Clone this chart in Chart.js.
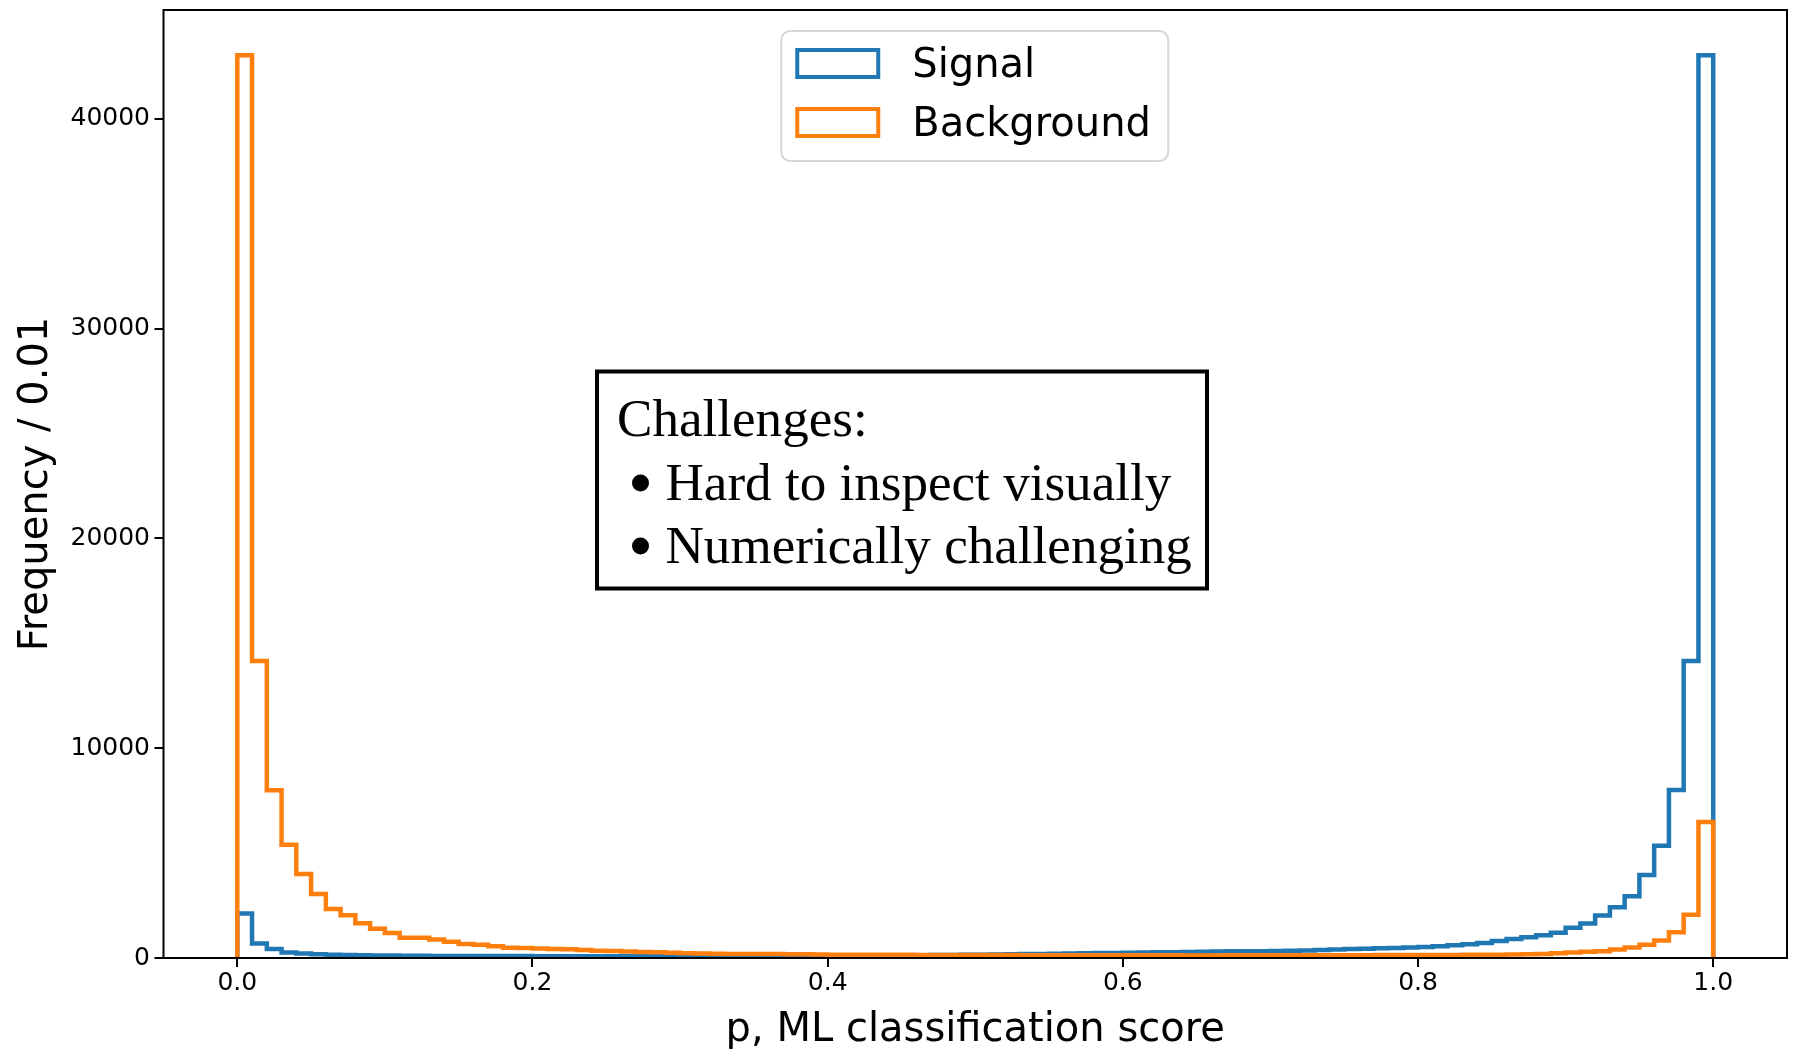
<!DOCTYPE html>
<html>
<head>
<meta charset="utf-8">
<script src="https://cdn.jsdelivr.net/npm/chart.js@4.4.1/dist/chart.umd.min.js"></script>
<style>
  html, body { margin: 0; padding: 0; background: #fff; }
  canvas { display: block; }
</style>
</head>
<body>
<canvas id="hist" width="1793" height="1049"></canvas>
<script>
// histogram: 100 bins of width 0.01 over [0, 1]
const binWidth = 0.01;

const signalCounts = [
  2120, 690, 430, 260, 210, 175, 150, 140, 130, 125,
  120, 110, 105, 100, 100, 95, 95, 90, 90, 90,
  85, 85, 85, 80, 80, 80, 80, 80, 85, 85,
  85, 85, 90, 90, 90, 95, 95, 100, 100, 105,
  105, 110, 115, 120, 125, 130, 135, 140, 145, 150,
  160, 165, 175, 185, 190, 200, 210, 225, 235, 240,
  250, 262, 270, 275, 285, 295, 310, 318, 320, 325,
  330, 340, 360, 381, 400, 429, 440, 470, 480, 500,
  530, 560, 610, 660, 720, 810, 900, 990, 1090, 1200,
  1440, 1650, 2030, 2420, 2940, 3950, 5350, 8010, 14150, 43030
];

const backgroundCounts = [
  43030, 14150, 8000, 5400, 4000, 3050, 2330, 2040, 1660, 1400,
  1190, 970, 960, 880, 770, 670, 630, 555, 490, 477,
  450, 430, 413, 380, 350, 330, 310, 286, 270, 250,
  222, 215, 205, 195, 190, 190, 185, 180, 175, 170,
  160, 158, 155, 152, 150, 150, 148, 145, 145, 142,
  140, 140, 138, 136, 135, 135, 132, 130, 130, 128,
  128, 128, 126, 126, 125, 125, 125, 126, 126, 128,
  128, 130, 130, 132, 132, 135, 135, 138, 140, 140,
  142, 145, 148, 150, 155, 160, 165, 180, 185, 230,
  260, 300, 320, 400, 500, 630, 840, 1230, 2060, 6480
];

const xTicks = [0, 0.2, 0.4, 0.6, 0.8, 1.0];
const yTicks = [0, 10000, 20000, 30000, 40000];
const seriesNames = ['Signal', 'Background'];
const seriesColors = ['#1f77b4', '#ff7f0e'];
const boxTitle = 'Challenges:';
const boxItems = ['Hard to inspect visually', 'Numerically challenging'];

// outline of a step histogram: up at the first edge, across each bin, down at the last edge
function stepPoints(counts) {
  const pts = [{ x: 0, y: 0 }];
  counts.forEach((c, i) => {
    pts.push({ x: i * binWidth, y: c });
    pts.push({ x: (i + 1) * binWidth, y: c });
  });
  pts.push({ x: counts.length * binWidth, y: 0 });
  return pts;
}

const yMax = Math.max(...signalCounts, ...backgroundCounts) * 1.05;

const overlay = {
  id: 'overlay',
  afterDatasetsDraw(chart) {
    const { ctx, chartArea: a } = chart;
    ctx.save();

    // frame
    ctx.strokeStyle = '#000';
    ctx.lineWidth = 2;
    ctx.strokeRect(a.left, a.top, a.right - a.left, a.bottom - a.top);

    // legend
    const cx = (a.left + a.right) / 2;
    const lx = cx - 194, ly = a.top + 21, lw = 387, lh = 130;
    ctx.beginPath();
    ctx.roundRect(lx, ly, lw, lh, 9);
    ctx.fillStyle = 'rgba(255,255,255,0.8)';
    ctx.fill();
    ctx.strokeStyle = '#d6d6d6';
    ctx.lineWidth = 2;
    ctx.stroke();

    ctx.font = '40px "DejaVu Sans"';
    ctx.textBaseline = 'alphabetic';
    ctx.textAlign = 'left';
    chart.data.datasets.forEach((ds, i) => {
      const ry = ly + 19 + i * 59;
      ctx.strokeStyle = ds.borderColor;
      ctx.lineWidth = 4;
      ctx.strokeRect(lx + 16, ry, 81, 27);
      ctx.fillStyle = '#000';
      ctx.fillText(ds.label, lx + 131, ry + 27);
    });

    // annotation box
    const bx = 597, by = 371.5, bw = 610, bh = 217;
    ctx.fillStyle = '#fff';
    ctx.fillRect(bx, by, bw, bh);
    ctx.strokeStyle = '#000';
    ctx.lineWidth = 4;
    ctx.strokeRect(bx, by, bw, bh);

    ctx.font = '100px "Liberation Serif"';
    const size = 100 * 526 / ctx.measureText(boxItems[1]).width;
    ctx.font = size.toFixed(1) + 'px "Liberation Serif"';
    ctx.fillStyle = '#000';
    ctx.fillText(boxTitle, 617, 436);
    boxItems.forEach((t, i) => {
      const base = 500 + i * 63;
      ctx.fillText(t, 665.5, base);
      ctx.beginPath();
      ctx.arc(640.5, base - 17, 8.5, 0, Math.PI * 2);
      ctx.fill();
    });

    ctx.restore();
  }
};

new Chart(document.getElementById('hist'), {
  type: 'line',
  data: {
    datasets: seriesNames.map((name, i) => ({
      label: name,
      data: stepPoints(i === 0 ? signalCounts : backgroundCounts),
      borderColor: seriesColors[i],
      borderWidth: 4.5,
      pointRadius: 0,
      fill: false,
      tension: 0,
      order: i === 0 ? 1 : 0
    }))
  },
  options: {
    responsive: false,
    animation: false,
    devicePixelRatio: 1,
    layout: { padding: { top: 10, right: 6, left: 0, bottom: 0 } },
    plugins: { legend: { display: false }, tooltip: { enabled: false } },
    scales: {
      x: {
        type: 'linear',
        min: -0.05,
        max: 1.05,
        afterBuildTicks: (s) => { s.ticks = xTicks.map(v => ({ value: v })); },
        afterFit: (s) => { s.height = 91; s.paddingLeft = 0; s.paddingRight = 0; },
        grid: { drawOnChartArea: false, tickLength: 9, color: '#000', lineWidth: 2 },
        border: { display: false },
        ticks: {
          padding: 1,
          color: '#000',
          maxRotation: 0,
          font: { family: 'DejaVu Sans', size: 25 },
          callback: (v) => Number(v).toFixed(1)
        },
        title: {
          display: true,
          text: 'p, ML classification score',
          color: '#000',
          font: { family: 'DejaVu Sans', size: 40, lineHeight: 0.9 },
          padding: { top: 0, bottom: 0 }
        }
      },
      y: {
        min: 0,
        max: yMax,
        afterBuildTicks: (s) => { s.ticks = yTicks.map(v => ({ value: v })); },
        afterFit: (s) => { s.width = 163.5; s.paddingTop = 0; s.paddingBottom = 0; },
        grid: { drawOnChartArea: false, tickLength: 9, color: '#000', lineWidth: 2 },
        border: { display: false },
        ticks: {
          padding: 4.5,
          color: '#000',
          font: { family: 'DejaVu Sans', size: 25 },
          callback: (v) => String(v)
        },
        title: {
          display: true,
          text: 'Frequency / 0.01',
          color: '#000',
          font: { family: 'DejaVu Sans', size: 40 },
          padding: { top: 12.5, bottom: 0 }
        }
      }
    }
  },
  plugins: [overlay]
});
</script>
</body>
</html>
